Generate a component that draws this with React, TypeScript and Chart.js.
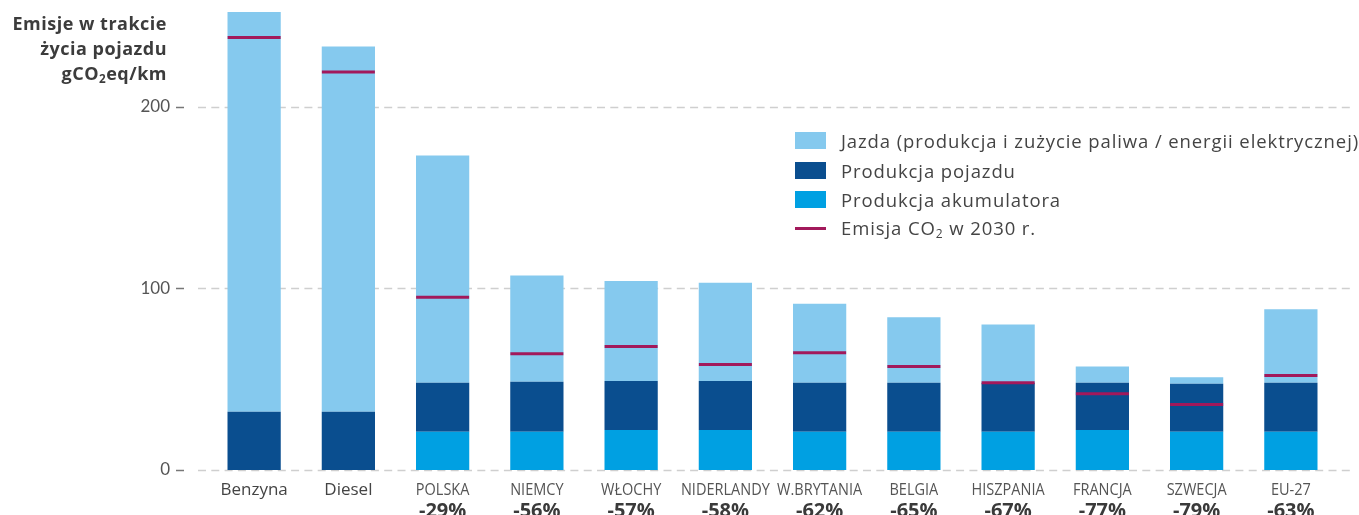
import React, { useEffect, useRef } from 'react';
import { Chart, registerables } from 'chart.js';

Chart.register(...registerables);

const categories = ['Benzyna', 'Diesel', 'POLSKA', 'NIEMCY', 'WŁOCHY', 'NIDERLANDY', 'W.BRYTANIA', 'BELGIA', 'HISZPANIA', 'FRANCJA', 'SZWECJA', 'EU-27'];
const reductionLabels = ['', '', '-29%', '-56%', '-57%', '-58%', '-62%', '-65%', '-67%', '-77%', '-79%', '-63%'];
const batteryValues = [0, 0, 21, 21, 22, 22, 21, 21, 21, 22, 21, 21];
const vehicleValues = [32, 32, 27, 27.5, 27, 27, 27, 27, 27, 26, 26.5, 27];
const drivingValues = [220, 201, 125, 58.5, 55, 54, 43.5, 36, 32, 9, 3.5, 40.5];
const emission2030 = [238, 219, 95, 64, 68, 58, 64.5, 57, 48, 42, 36, 52];
const yTicks = [0, 100, 200];

const seriesNames = {
  driving: 'Jazda (produkcja i zużycie paliwa / energii elektrycznej)',
  vehicle: 'Produkcja pojazdu',
  battery: 'Produkcja akumulatora',
  emission: 'Emisja CO₂ w 2030 r.',
};

const COLORS = {
  driving: '#85C9EE',
  vehicle: '#0A4E8F',
  battery: '#00A0E2',
  emission: '#A2195B',
};

const FONT = '"Open Sans", Lato, sans-serif';

export default function App() {
  const ref = useRef<HTMLCanvasElement>(null);

  useEffect(() => {
    if (!ref.current) return;

    const customPlugin = {
      id: 'customDecor',
      beforeDatasetsDraw(chart: any) {
        const { ctx, scales } = chart;
        const y = scales.y;
        ctx.save();
        yTicks.forEach((v) => {
          const py = Math.round(y.getPixelForValue(v)) + 0.5;
          ctx.strokeStyle = '#cfcfcf';
          ctx.lineWidth = 1.5;
          ctx.setLineDash([8, 5.3]);
          ctx.beginPath();
          ctx.moveTo(198, py);
          ctx.lineTo(1352, py);
          ctx.stroke();
          ctx.setLineDash([]);
          ctx.strokeStyle = '#777';
          ctx.beginPath();
          ctx.moveTo(176, py);
          ctx.lineTo(184, py);
          ctx.stroke();
        });
        ctx.restore();
      },
      afterDraw(chart: any) {
        const { ctx, scales } = chart;
        const x = scales.x;
        ctx.save();
        ctx.textAlign = 'center';
        ctx.textBaseline = 'alphabetic';
        categories.forEach((lab, i) => {
          const cx = x.getPixelForValue(i);
          ctx.save();
          ctx.translate(cx, 495);
          if (i < 2) {
            ctx.font = `17px ${FONT}`;
            ctx.fillStyle = '#444';
          } else {
            ctx.font = `16.5px ${FONT}`;
            ctx.fillStyle = '#555';
            ctx.scale(0.88, 1);
          }
          ctx.fillText(lab, 0, 0);
          ctx.restore();
        });
        ctx.font = `bold 20px ${FONT}`;
        ctx.fillStyle = '#3a3a3a';
        reductionLabels.forEach((lab, i) => {
          if (!lab) return;
          ctx.fillText(lab, x.getPixelForValue(i), 517);
        });
        ctx.restore();
      },
    };

    const chart = new Chart(ref.current, {
      type: 'bar',
      data: {
        labels: categories,
        datasets: [
          {
            type: 'line' as const,
            label: seriesNames.emission,
            data: emission2030,
            showLine: false,
            pointStyle: 'line',
            pointRadius: 26.5,
            pointHoverRadius: 26.5,
            pointBorderWidth: 3,
            borderWidth: 3,
            borderColor: COLORS.emission,
            pointBorderColor: COLORS.emission,
            backgroundColor: COLORS.emission,
            stack: 'emission',
            order: 0,
          } as any,
          {
            label: seriesNames.battery,
            data: batteryValues,
            backgroundColor: COLORS.battery,
            stack: 'bars',
            order: 1,
          },
          {
            label: seriesNames.vehicle,
            data: vehicleValues,
            backgroundColor: COLORS.vehicle,
            stack: 'bars',
            order: 1,
          },
          {
            label: seriesNames.driving,
            data: drivingValues,
            backgroundColor: COLORS.driving,
            stack: 'bars',
            order: 1,
          },
        ],
      },
      options: {
        responsive: false,
        animation: false,
        devicePixelRatio: 1,
        layout: { autoPadding: false, padding: { top: 6, right: 21, left: 0, bottom: 0 } },
        datasets: {
          bar: { barPercentage: 0.565, categoryPercentage: 1.0 },
        },
        plugins: {
          legend: { display: false },
          tooltip: { enabled: false },
        },
        scales: {
          x: {
            stacked: true,
            grid: { display: false, drawTicks: false },
            border: { display: false },
            ticks: { display: false },
            afterFit: (s: any) => {
              s.height = 45;
            },
          },
          y: {
            stacked: true,
            min: 0,
            max: 253,
            grid: { display: false, drawTicks: true, tickLength: 37 },
            border: { display: false },
            ticks: {
              padding: 0,
              color: '#555',
              font: { family: 'Lato, sans-serif', size: 17 },
            },
            afterBuildTicks: (s: any) => {
              s.ticks = yTicks.map((v) => ({ value: v }));
            },
            afterFit: (s: any) => {
              s.width = 207;
            },
          },
        },
      },
      plugins: [customPlugin],
    });

    return () => chart.destroy();
  }, []);

  const sub = { fontSize: '0.65em', verticalAlign: '-0.25em' } as const;
  const legendItems = [
    { name: 'driving', color: COLORS.driving, text: <>Jazda (produkcja i zużycie paliwa / energii elektrycznej)</> },
    { name: 'vehicle', color: COLORS.vehicle, text: <>Produkcja pojazdu</> },
    { name: 'battery', color: COLORS.battery, text: <>Produkcja akumulatora</> },
    { name: 'emission', color: COLORS.emission, text: <>Emisja CO<sub style={sub}>2</sub> w 2030 r.</> },
  ];

  return (
    <div style={{ position: 'absolute', left: 0, top: 0, width: 1359, height: 515, overflow: 'hidden', background: '#fff' }}>
      <canvas ref={ref} width={1359} height={515} style={{ position: 'absolute', left: 0, top: 0 }} />
      <div
        style={{
          position: 'absolute',
          right: 1359 - 167,
          top: 11,
          textAlign: 'right',
          fontFamily: FONT,
          fontWeight: 'bold',
          fontSize: 18,
          letterSpacing: '0.5px',
          lineHeight: '25px',
          color: '#3c3c3c',
          whiteSpace: 'nowrap',
        }}
      >
        <div>Emisje w trakcie</div>
        <div>życia pojazdu</div>
        <div>gCO<sub style={sub}>2</sub>eq/km</div>
      </div>
      <div style={{ position: 'absolute', left: 795, top: 126, fontFamily: FONT, fontSize: 18.5, letterSpacing: '0.9px', color: '#444' }}>
        {legendItems.map((it) => (
          <div key={it.name} style={{ display: 'flex', alignItems: 'center', height: 29.4, whiteSpace: 'nowrap' }}>
            <span
              style={{
                display: 'inline-block',
                width: 31,
                height: it.name === 'emission' ? 3 : 17,
                background: it.color,
                marginRight: 15,
              }}
            />
            <span>{it.text}</span>
          </div>
        ))}
      </div>
    </div>
  );
}
